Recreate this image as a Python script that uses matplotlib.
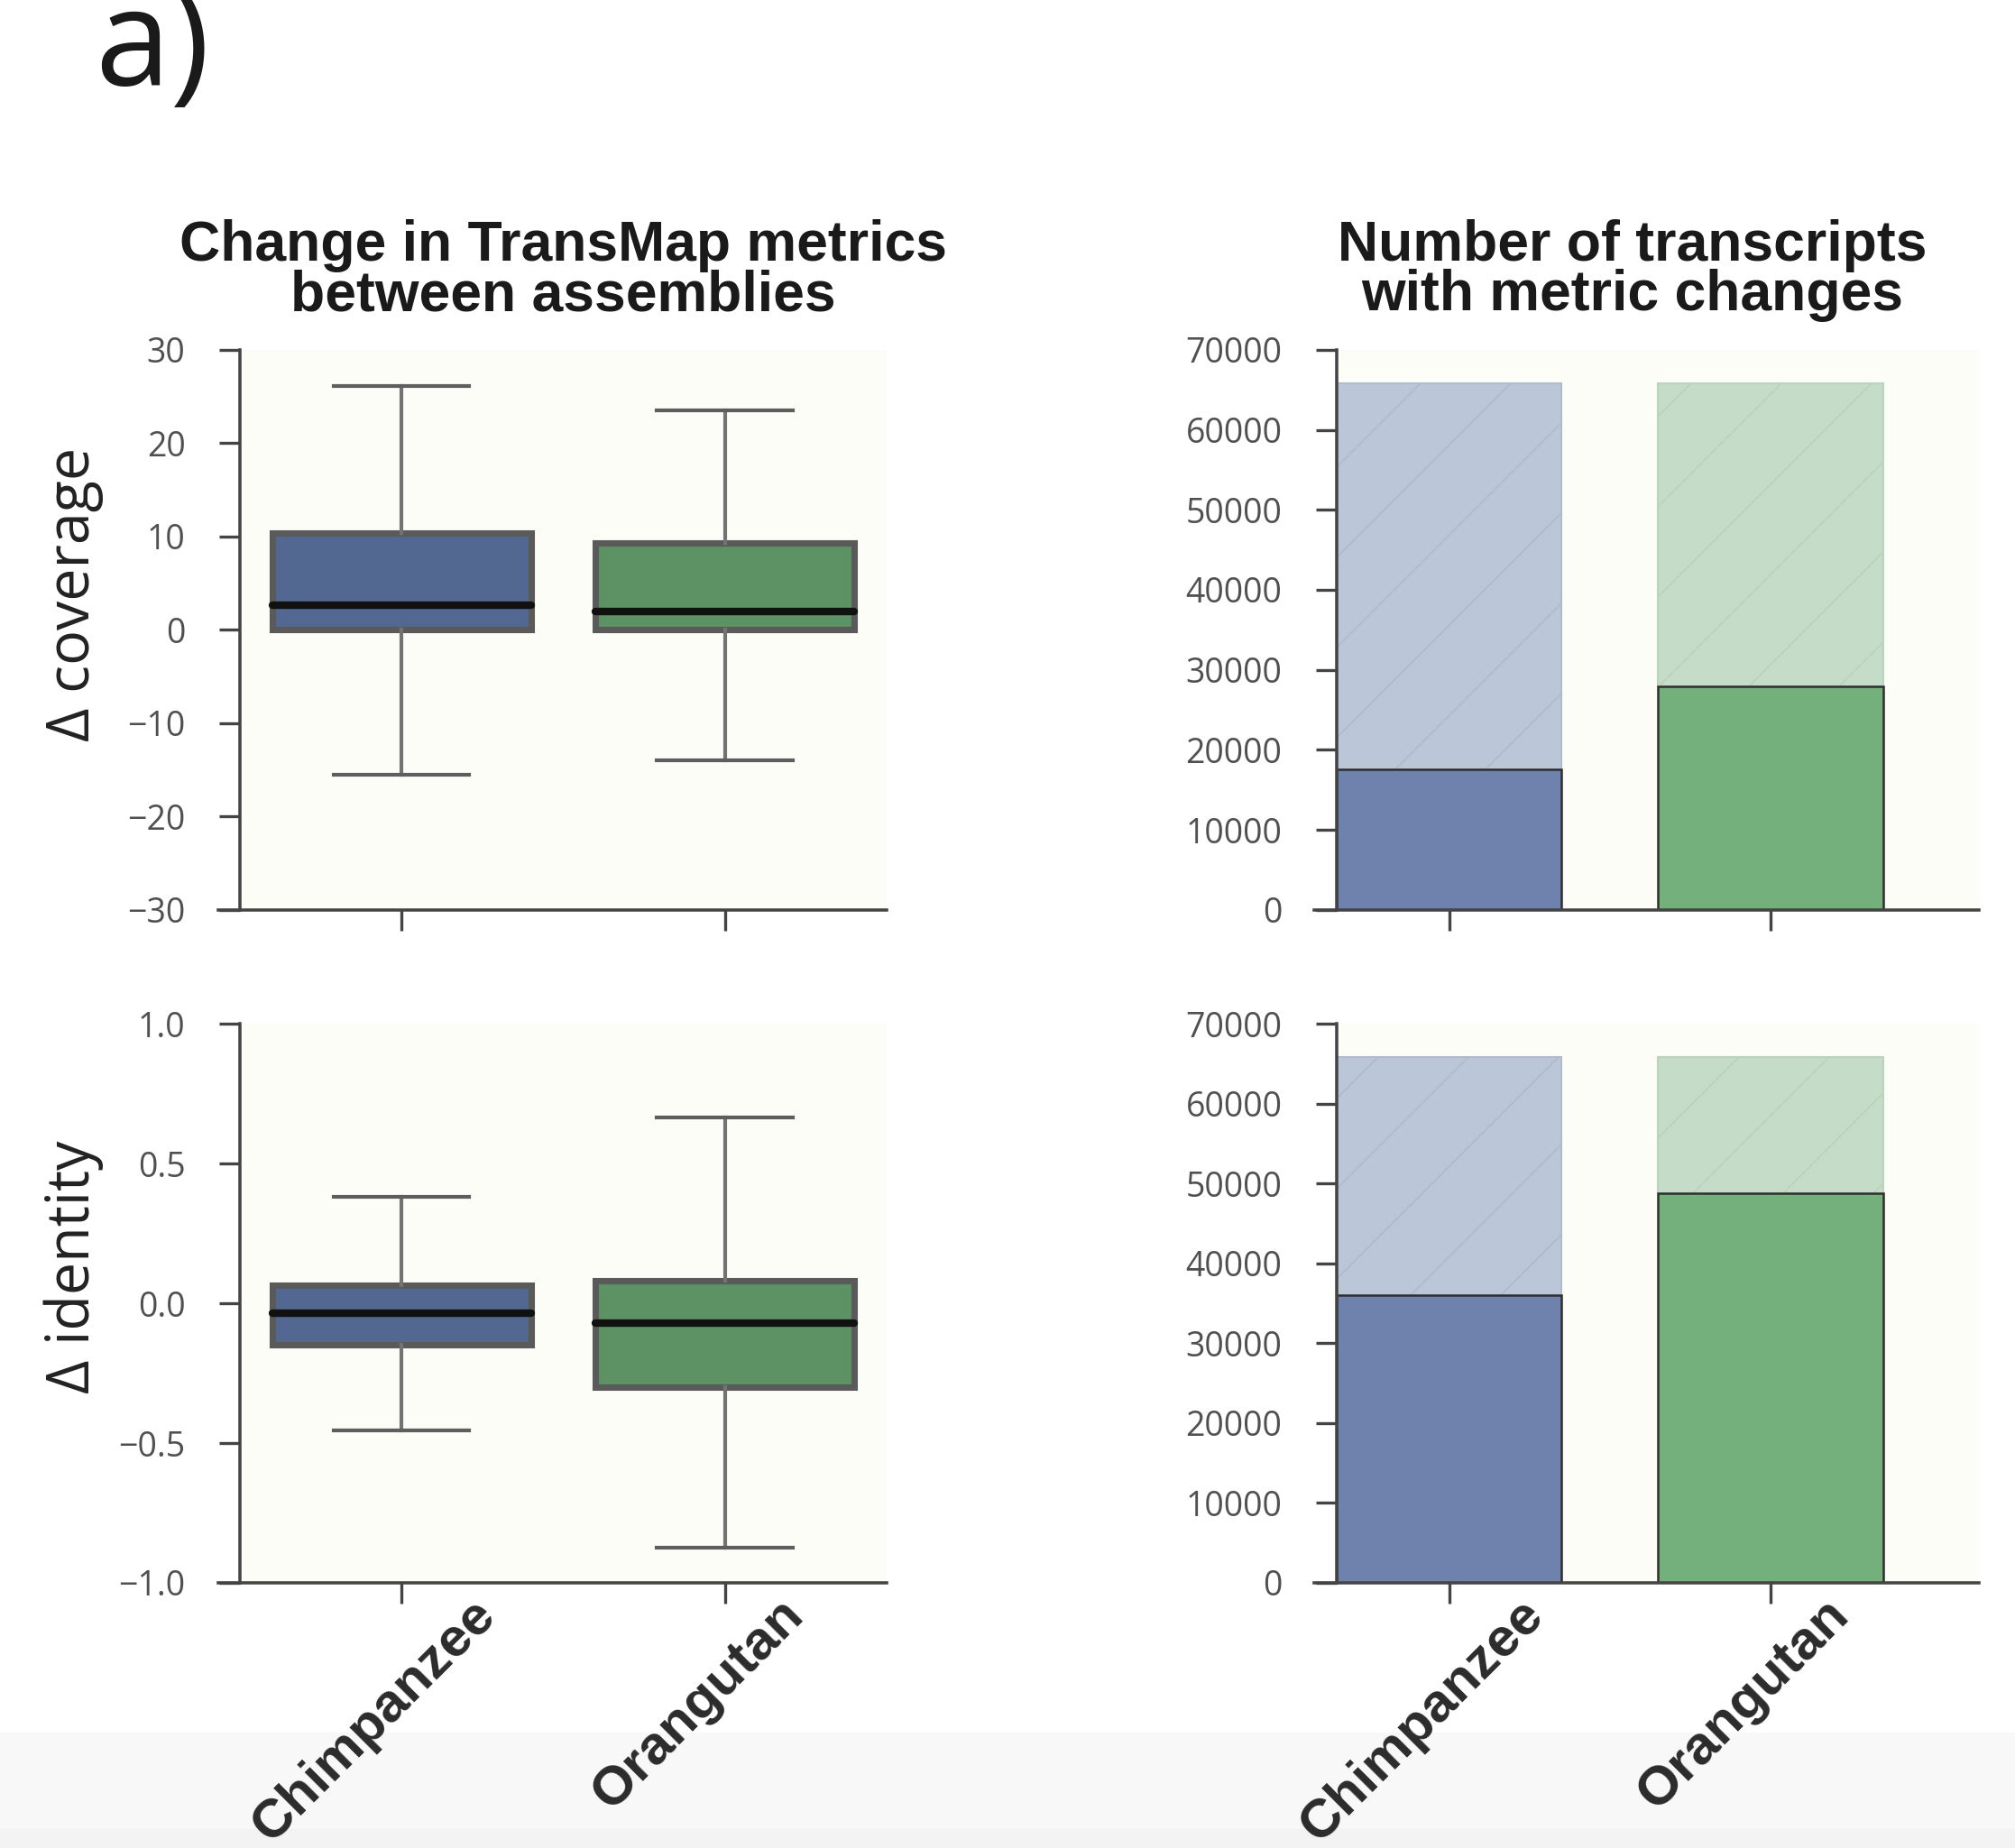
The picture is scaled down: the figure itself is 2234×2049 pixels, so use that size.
import matplotlib
matplotlib.use('Agg')
import matplotlib.pyplot as plt
from matplotlib.patches import Rectangle
from matplotlib.transforms import ScaledTranslation

species = ['Chimpanzee', 'Orangutan']

# box stats
cov_low = [-15.5, -14.0]
cov_q1 = [0.0, 0.0]
cov_med = [2.65, 2.0]
cov_q3 = [10.4, 9.3]
cov_high = [26.1, 23.5]

ident_low = [-0.455, -0.875]
ident_q1 = [-0.148, -0.30]
ident_med = [-0.034, -0.071]
ident_q3 = [0.064, 0.08]
ident_high = [0.38, 0.665]

# transcript counts
n_total = [65850, 65850]
cov_changed = [17600, 27900]
ident_changed = [36050, 48750]

cov_ticks = [-30, -20, -10, 0, 10, 20, 30]
ident_ticks = [-1.0, -0.5, 0.0, 0.5, 1.0]
count_ticks = [0, 10000, 20000, 30000, 40000, 50000, 60000, 70000]

box_colors = ['#536890', '#5c9264']
bar_dark = ['#6e82ad', '#74b07c']
bar_light = ['#bbc6d8', '#c4dcc8']
hatch_edge = ['#b1bbce', '#b9d3bd']
panel_bg = '#fdfdf8'
spine_col = '#444444'

DPI = 300
plt.rcParams['hatch.linewidth'] = 0.45

fig = plt.figure(figsize=(2234 / DPI, 2049 / DPI), dpi=DPI)
fig.patches.append(Rectangle((0, 0), 1, 1 - 1923 / 2049, transform=fig.transFigure,
                             color='#f8f8f8', zorder=-2))
fig.patches.append(Rectangle((0, 0), 1, 1 - 2030 / 2049, transform=fig.transFigure,
                             color='#f3f3f3', zorder=-1))

ax_cov = fig.add_axes([0.119, 0.5077, 0.321, 0.303])
ax_ident = fig.add_axes([0.119, 0.1435, 0.321, 0.3025])
ax_ncov = fig.add_axes([0.6633, 0.5077, 0.319, 0.303])
ax_nident = fig.add_axes([0.6633, 0.1435, 0.319, 0.3025])

tick_font = dict(family='Open Sans', size=9, color='#505050')


def style(ax, lo, hi, spine_left):
    ax.set_facecolor(panel_bg)
    for side in ['top', 'right']:
        ax.spines[side].set_visible(False)
    for side in ['left', 'bottom']:
        ax.spines[side].set_color(spine_col)
        ax.spines[side].set_linewidth(0.85)
    ax.set_xlim(lo, hi)
    ax.spines['bottom'].set_bounds(spine_left, hi)
    ax.tick_params(axis='both', length=5.5, width=0.8, color=spine_col)
    ax.tick_params(axis='y', pad=9)
    for lab in ax.get_yticklabels():
        lab.set_fontfamily(tick_font['family'])
        lab.set_fontsize(tick_font['size'])
        lab.set_color(tick_font['color'])


def draw_boxes(ax, low, q1, med, q3, high):
    stats = []
    for i in range(len(species)):
        stats.append(dict(whislo=low[i], q1=q1[i], med=med[i], q3=q3[i],
                          whishi=high[i], fliers=[], label=species[i]))
    bp = ax.bxp(stats, positions=[0, 1], widths=0.8, capwidths=0.42,
                patch_artist=True, showfliers=False,
                boxprops=dict(edgecolor='#5a5a5a', linewidth=1.7),
                medianprops=dict(color='#111111', linewidth=2.0, solid_capstyle='round'),
                whiskerprops=dict(color='#737373', linewidth=1.0),
                capprops=dict(color='#5e5e5e', linewidth=1.0))
    for patch, c in zip(bp['boxes'], box_colors):
        patch.set_facecolor(c)


def draw_bars(ax, changed):
    x = [0, 1]
    ax.bar(x, changed, width=0.7, color=bar_dark, edgecolor='#2e2e2e',
           linewidth=0.6, zorder=2)
    rest = [t - c for t, c in zip(n_total, changed)]
    ax.bar(x, rest, bottom=changed, width=0.7, color=bar_light,
           edgecolor=hatch_edge, hatch='/', linewidth=0.5, zorder=1)


draw_boxes(ax_cov, cov_low, cov_q1, cov_med, cov_q3, cov_high)
draw_boxes(ax_ident, ident_low, ident_q1, ident_med, ident_q3, ident_high)
draw_bars(ax_ncov, cov_changed)
draw_bars(ax_nident, ident_changed)

ax_cov.set_ylim(-30, 30)
ax_cov.set_yticks(cov_ticks)
ax_cov.set_yticklabels([str(t).replace('-', '\u2212') for t in cov_ticks])
ax_ident.set_ylim(-1.0, 1.0)
ax_ident.set_yticks(ident_ticks)
ax_ident.set_yticklabels([('%.1f' % t).replace('-', '\u2212') for t in ident_ticks])
for ax in (ax_ncov, ax_nident):
    ax.set_ylim(0, 70000)
    ax.set_yticks(count_ticks)
    ax.set_yticklabels([str(t) for t in count_ticks])

for ax in (ax_cov, ax_ident):
    ax.set_xticks([0, 1])
    style(ax, -0.5, 1.5, -0.566)
for ax in (ax_ncov, ax_nident):
    ax.set_xticks([0, 1])
    style(ax, -0.35, 1.65, -0.42)

for ax in (ax_cov, ax_ncov):
    ax.set_xticklabels([])

shift = ScaledTranslation(-0.10, 0.10, fig.dpi_scale_trans)
for ax in (ax_ident, ax_nident):
    ax.set_xticklabels(species, rotation=45, ha='center', va='top',
                       family='Liberation Sans', fontweight='bold',
                       fontsize=14.5, color='#2b2b2b')
    for lab in ax.get_xticklabels():
        lab.set_transform(lab.get_transform() + shift)

title_kw = dict(family='Liberation Sans', fontweight='bold', fontsize=15,
                color='#1a1a1a', linespacing=0.92, pad=10.5)
ax_cov.set_title('Change in TransMap metrics\nbetween assemblies', **title_kw)
ax_ncov.set_title('Number of transcripts\nwith metric changes', **title_kw)
ax_ncov.title.set_x(0.46)

ax_cov.set_ylabel('\u0394 coverage', family='Open Sans', fontsize=15.5, color='#222222')
ax_ident.set_ylabel('\u0394 identity', family='Open Sans', fontsize=15.5, color='#222222')
ax_cov.yaxis.set_label_coords(-0.21, 0.563)
ax_ident.yaxis.set_label_coords(-0.21, 0.565)

fig.text(105 / 2234, 1 - 95 / 2049, 'a)', family='Open Sans', fontsize=36,
         color='#1a1a1a', ha='left', va='baseline')

# the chimpanzee ticks on the left panels are drawn pale
fig.canvas.draw()
for ax in (ax_cov, ax_ident):
    ax.xaxis.get_major_ticks()[0].tick1line.set_color('#c8c8c8')

fig.savefig('out.png', dpi=DPI)
